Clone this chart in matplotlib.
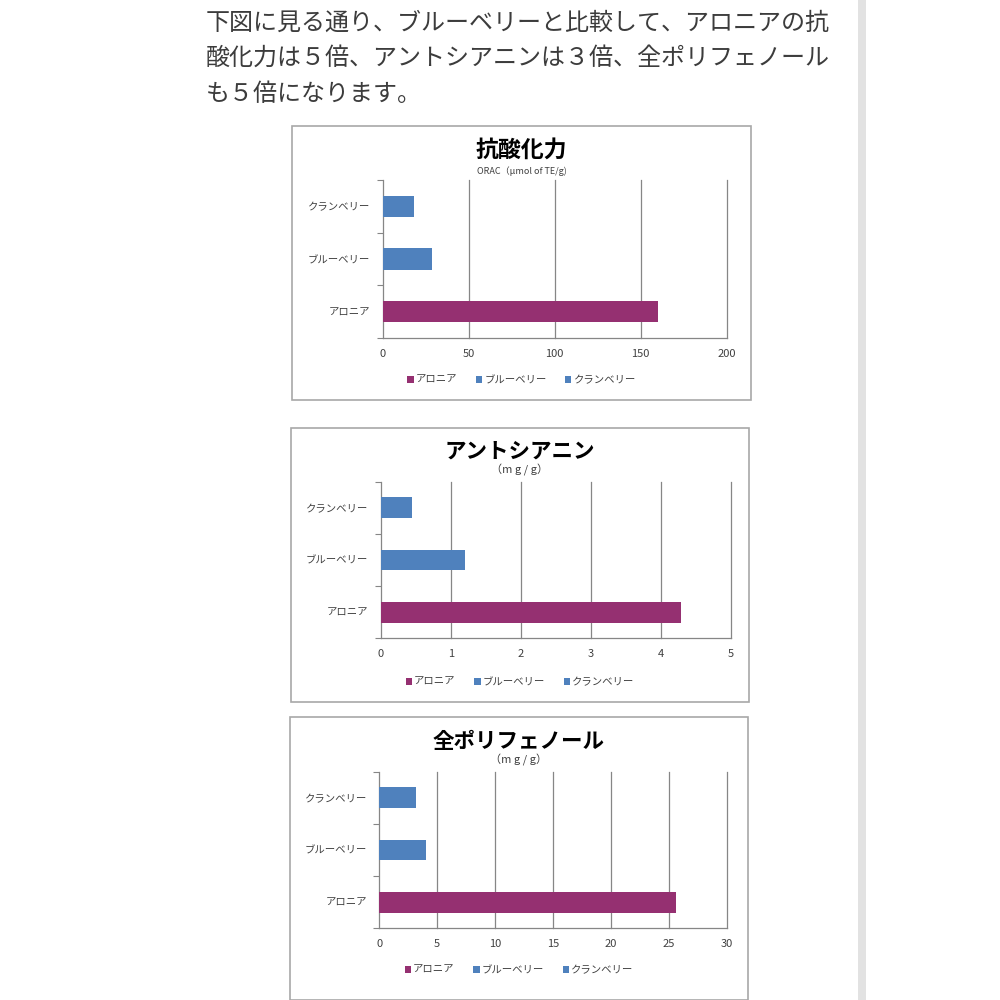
import matplotlib
matplotlib.use("Agg")
import matplotlib.pyplot as plt
from matplotlib.patches import Rectangle, Patch

plt.rcParams['font.family'] = ['Noto Sans CJK JP', 'DejaVu Sans']

# ---- data ----
categories = ['アロニア', 'ブルーベリー', 'クランベリー']   # bottom -> top
orac_values = [160, 28.5, 18.2]
anthocyanin_values = [4.28, 1.20, 0.44]
polyphenol_values = [25.6, 4.06, 3.17]

orac_ticks = [0, 50, 100, 150, 200]
antho_ticks = [0, 1, 2, 3, 4, 5]
poly_ticks = [0, 5, 10, 15, 20, 25, 30]

titles = ['抗酸化力', 'アントシアニン', '全ポリフェノール']
subtitles = ['ORAC（μmol of TE/g)', '（m g / g）', '（m g / g）']

paragraph = ['下図に見る通り、ブルーベリーと比較して、アロニアの抗',
             '酸化力は５倍、アントシアニンは３倍、全ポリフェノール',
             'も５倍になります。']

PURPLE = '#953071'
BLUE = '#4F81BD'
bar_colors = [PURPLE, BLUE, BLUE]

W = H = 1000
fig = plt.figure(figsize=(10, 10), dpi=100)
fig.patch.set_facecolor('white')

def fx(x):
    return x / W

def fy(y):
    return 1 - y / H

# right gray bar
fig.patches.append(Rectangle((fx(858), 0), fx(8), 1, transform=fig.transFigure,
                             facecolor='#e2e2e2', edgecolor='none', zorder=-2))

# paragraph
for i, line in enumerate(paragraph):
    fig.text(fx(206), fy([23, 58, 94][i]), line, fontsize=17.3, color='#3c3c3c',
             ha='left', va='center')

charts = [
    dict(box=(292, 126, 751, 400), ax=(382.7, 180, 726.7, 338), vals=orac_values,
         ticks=orac_ticks, title_y=150, sub_y=171, leg_y=380, tfs=16.5, sfs=6.5),
    dict(box=(291, 428, 749, 702), ax=(380.7, 481.7, 731, 638.3), vals=anthocyanin_values,
         ticks=antho_ticks, title_y=451, sub_y=470, leg_y=682, tfs=15.5, sfs=8),
    dict(box=(290, 717, 748, 1000), ax=(379.3, 771.7, 726.7, 928.3), vals=polyphenol_values,
         ticks=poly_ticks, title_y=741, sub_y=760, leg_y=970, tfs=15.5, sfs=8),
]

for k, c in enumerate(charts):
    bx0, by0, bx1, by1 = c['box']
    fig.patches.append(Rectangle((fx(bx0), fy(by1)), fx(bx1 - bx0), (by1 - by0) / H,
                                 transform=fig.transFigure, facecolor='white',
                                 edgecolor='#a8a8a8', linewidth=1.2, zorder=-1))
    ax0, ay0, ax1, ay1 = c['ax']
    ax = fig.add_axes([fx(ax0), fy(ay1), fx(ax1 - ax0), (ay1 - ay0) / H])
    ax.set_zorder(2)
    ypos = list(range(len(categories)))
    ax.barh(ypos, c['vals'], height=0.4, color=bar_colors, zorder=3)
    ax.set_ylim(-0.5, 2.5)
    ax.set_xlim(c['ticks'][0], c['ticks'][-1])
    ax.set_xticks(c['ticks'])
    ax.set_xticklabels([str(t) for t in c['ticks']], fontsize=8, color='#404040')
    ax.set_yticks(ypos)
    ax.set_yticklabels(categories, fontsize=7.5, color='#404040')
    ax.set_yticks([-0.5, 0.5, 1.5, 2.5], minor=True)
    ax.tick_params(axis='y', which='major', length=0, pad=9)
    ax.tick_params(axis='y', which='minor', length=4, width=0.8, color='#868686', direction='out')
    ax.tick_params(axis='x', which='major', length=0, pad=8)
    for t in c['ticks'][1:]:
        ax.axvline(t, color='#868686', linewidth=0.9, zorder=1, clip_on=False)
    for s in ['top', 'right']:
        ax.spines[s].set_visible(False)
    for s in ['left', 'bottom']:
        ax.spines[s].set_color('#868686')
        ax.spines[s].set_linewidth(0.9)
    ax.set_facecolor('none')

    cx = fx((bx0 + bx1) / 2)
    fig.text(cx, fy(c['title_y']), titles[k], fontsize=c['tfs'], fontweight='bold',
             ha='center', va='center', color='black')
    fig.text(cx, fy(c['sub_y']), subtitles[k], fontsize=c['sfs'], ha='center', va='center',
             color='#404040')

    handles = [Patch(facecolor=col, edgecolor='none') for col in bar_colors]
    fig.legend(handles, categories, loc='center', bbox_to_anchor=(cx, fy(c['leg_y'])),
               ncol=3, frameon=False, fontsize=7.5, handlelength=0.6, handleheight=0.6,
               handletextpad=0.2, columnspacing=1.8, labelcolor='#404040')

fig.savefig('out.png', dpi=100, facecolor='white')
